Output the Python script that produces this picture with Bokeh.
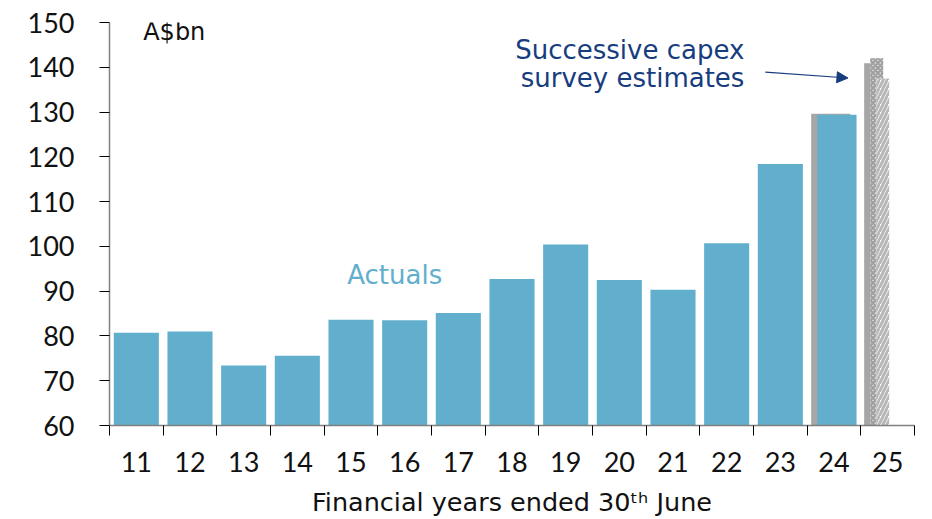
from bokeh.plotting import figure
from bokeh.models import Range1d, FixedTicker, Label, Arrow, NormalHead
from bokeh.embed import file_html
from bokeh.resources import INLINE

# ---- data ----
years = ["11", "12", "13", "14", "15", "16", "17", "18", "19", "20", "21", "22", "23", "24", "25"]
actuals = [80.7, 81.0, 73.4, 75.6, 83.6, 83.5, 85.1, 92.7, 100.4, 92.5, 90.3, 100.7, 118.4, 129.4]  # FY11-FY24
estimate_24 = [129.6]                 # capex survey estimate for FY24
estimates_25 = [140.9, 142.0, 137.5]  # successive capex survey estimates for FY25
y_ticks = [60, 70, 80, 90, 100, 110, 120, 130, 140, 150]

FONT = "Lato"
TFONT = "DejaVu Sans"
BLUE = "#61AFCD"
GREY = "#A6A6A6"
NAVY = "#173D7E"
BASE = 60

p = figure(width=932, height=519, output_backend="svg", toolbar_location=None,
           x_range=Range1d(-0.5, len(years) - 0.5), y_range=Range1d(60, 150),
           min_border_left=109, min_border_right=18, min_border_top=22, min_border_bottom=93)
p.outline_line_color = None
p.xgrid.visible = False
p.ygrid.visible = False
p.background_fill_color = "white"
p.border_fill_color = "white"

idx = list(range(len(years)))
n_full = len(actuals) - 1  # FY11-FY23 as full-width bars

# FY11-FY23 actuals
p.vbar(x=idx[:n_full], top=actuals[:n_full], bottom=BASE, width=0.84,
       fill_color=BLUE, line_color=None)

# FY24: estimate (grey) behind actual (blue)
i24 = years.index("24")
p.vbar(x=[i24 - 0.06], top=estimate_24, bottom=BASE, width=0.73, fill_color=GREY, line_color=None)
p.vbar(x=[i24 + 0.055], top=actuals[-1:], bottom=BASE, width=0.73, fill_color=BLUE, line_color=None)

# FY25: successive estimates
i25 = years.index("25")
w25 = 0.242
p.vbar(x=[i25 - 0.317], top=estimates_25[:1], bottom=BASE, width=w25, fill_color=GREY, line_color=None)
p.vbar(x=[i25 - 0.205], top=estimates_25[1:2], bottom=BASE, width=w25, fill_color="#D4D4D4",
       line_color=None, hatch_pattern="diagonal_cross", hatch_color="#A0A0A0", hatch_scale=5, hatch_weight=2)
p.vbar(x=[i25 - 0.093], top=estimates_25[2:3], bottom=BASE, width=w25, fill_color="white",
       line_color=None, hatch_pattern="right_diagonal_line", hatch_color="#B8B8B8", hatch_scale=8, hatch_weight=3)

# ---- axes ----
xa = p.xaxis[0]
xa.ticker = FixedTicker(ticks=idx, minor_ticks=[i - 0.5 for i in range(len(years) + 1)])
xa.major_label_overrides = {i: y for i, y in enumerate(years)}
xa.major_tick_out = 0
xa.major_tick_in = 0
xa.minor_tick_out = 10
xa.minor_tick_in = 0
xa.minor_tick_line_color = "#000000"
xa.axis_line_color = "#808080"
xa.axis_line_width = 1.5
xa.major_label_text_font = FONT
xa.major_label_text_font_size = "27px"
xa.major_label_text_color = "#111111"
xa.major_label_standoff = 16
xa.axis_label = "Financial years ended 30\u1d57\u02b0 June"
xa.axis_label_text_font = TFONT
xa.axis_label_text_font_size = "25.5px"
xa.axis_label_text_font_style = "normal"
xa.axis_label_text_color = "#111111"
xa.axis_label_standoff = 12

ya = p.yaxis[0]
ya.ticker = FixedTicker(ticks=y_ticks)
ya.major_tick_out = 10
ya.major_tick_in = 0
ya.minor_tick_out = 0
ya.minor_tick_in = 0
ya.major_tick_line_color = "#000000"
ya.axis_line_color = "#808080"
ya.axis_line_width = 1.5
ya.major_label_text_font = FONT
ya.major_label_text_font_size = "27px"
ya.major_label_text_color = "#111111"
ya.major_label_standoff = 25

# ---- annotations ----
def lab(x, y, text, size, color, align="left", baseline="alphabetic"):
    p.add_layout(Label(x=x, y=y, text=text, text_font=TFONT, text_font_size=size,
                       text_color=color, text_align=align, text_baseline=baseline))

lab(0.128, 147.8, "A$bn", "24px", "#111111")
lab(3.93, 93.65, "Actuals", "26px", BLUE)
lab(11.33, 143.75, "Successive capex", "26px", NAVY, align="right")
lab(11.33, 137.6, "survey estimates", "26px", NAVY, align="right")

p.add_layout(Arrow(end=NormalHead(size=11, fill_color=NAVY, line_color=NAVY),
                   x_start=11.72, y_start=138.9, x_end=13.26, y_end=137.6,
                   line_color=NAVY, line_width=1.2))

open("out.html", "w").write(file_html(p, INLINE))
